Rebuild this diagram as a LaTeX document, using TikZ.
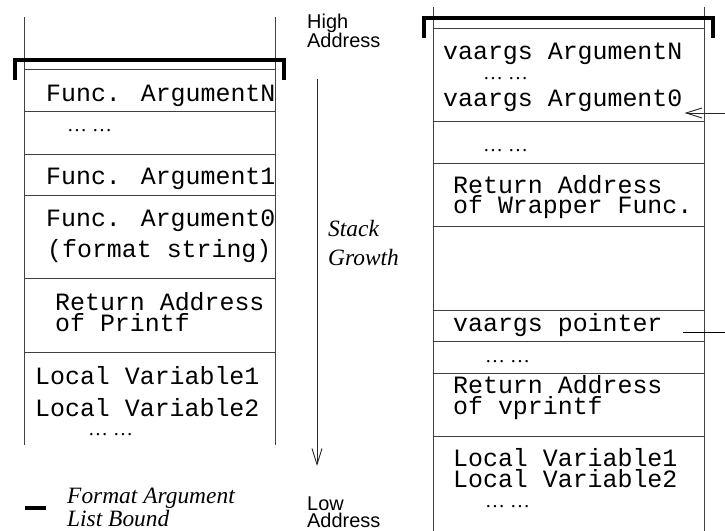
\documentclass[tikz,border=0pt]{standalone}
\usepackage{fontspec}
\setmainfont{Liberation Serif}
\newfontfamily\monof{Liberation Mono}
\newfontfamily\sansf{Liberation Sans}
\newfontfamily\serf{Liberation Serif}
\usetikzlibrary{arrows.meta}
\begin{document}
\begin{tikzpicture}[x=1bp,y=-1bp,
  txt/.style={inner sep=0pt,anchor=base west,align=left,font=\monof\fontsize{25}{20.5}\selectfont},
  txtw/.style={inner sep=0pt,anchor=base west,align=left,font=\monof\fontsize{25}{32}\selectfont},
  dts/.style={inner sep=0pt,anchor=base west,font=\serf\fontsize{20}{20}\selectfont},
  lbl/.style={inner sep=0pt,anchor=base west,align=left,font=\sansf\fontsize{20}{20}\selectfont},
  lblt/.style={inner sep=0pt,anchor=base west,align=left,font=\sansf\fontsize{20}{17}\selectfont},
  itl/.style={inner sep=0pt,anchor=base west,align=left,font=\serf\itshape\fontsize{23.5}{30}\selectfont},
  itlt/.style={inner sep=0pt,anchor=base west,align=left,font=\serf\itshape\fontsize{23.5}{18}\selectfont},
  wall/.style={draw=black!75,line width=0.9bp},
  bound/.style={draw=black,line width=4bp},
  arr/.style={draw=black!85,line width=0.9bp,-{Straight Barb[length=16bp,width=10bp,line width=0.9bp]}}]
\useasboundingbox (0,0) rectangle (725,531);
% ---------- left stack ----------
\draw[wall] (24,17) -- (24,445);
\draw[wall] (275,17) -- (275,445);
\foreach \yy in {69,111,154,195,278,352} \draw[wall] (24,\yy) -- (275,\yy);
\draw[bound,line cap=butt] (15,80) -- (15,60) -- (284,60) -- (284,80);
\node[txt] (la) at (46,102) {Func. ArgumentN};
\node[dts] (ld1) at (67,132) {… …};
\node[txt] (lb) at (46,185) {Func. Argument1};
\node[txtw] (lc) at (46,258) {Func. Argument0\\\hspace*{1bp}(format string)};
\node[txt] (ld) at (55,331) {Return Address\\of Printf};
\node[txtw] (le) at (35,416) {Local Variable1\\Local Variable2};
\node[dts] (ld2d) at (88,435) {… …};
% ---------- middle ----------
\node[lbl] (high) at (307,48) {High\\Address};
\coordinate (sgTop) at (317,79);
\coordinate (sgBot) at (317,466);
\draw[arr] (sgTop) -- (sgBot);
\node[itl] (sg) at (328,266) {Stack\\Growth};
\node[lblt] (low) at (307,527) {Low\\Address};
% ---------- legend ----------
\draw[bound] (25,508) -- (46,508);
\node[itlt] (lg) at (67,526) {Format Argument\\List Bound};
% ---------- right stack ----------
\draw[wall] (433,7) -- (433,531);
\draw[wall] (704,7) -- (704,531);
\foreach \yy in {28,121,163,226,310,341,373,436} \draw[wall] (433,\yy) -- (704,\yy);
\draw[bound,line cap=butt] (424,38) -- (424,18) -- (713,18) -- (713,38);
\node[txt] (ra) at (443,60) {vaargs ArgumentN};
\node[dts] (rd1) at (483,80) {… …};
\node[txt] (rb) at (443,107) {vaargs Argument0};
\node[dts] (rd2) at (483,152) {… …};
\node[txt] (rc) at (453,214) {Return Address\\of Wrapper Func.};
\node[txt] (rp) at (453,331) {vaargs pointer};
\node[dts] (rd3) at (485,362) {… …};
\node[txt] (rr) at (453,414) {Return Address\\of vprintf};
\node[txt] (rl) at (453,487) {Local Variable1\\Local Variable2};
\node[dts] (rd4) at (485,507) {… …};
% pointer connectors
\coordinate (inA) at (725,113);
\draw[arr] (inA) -- ([xshift=2bp]inA -| rb.east);
\coordinate (outP) at (725,332);
\coordinate (outPs) at (683,332);
\draw[draw=black,line width=0.9bp] (outP) -- (outPs);
\end{tikzpicture}
\end{document}
